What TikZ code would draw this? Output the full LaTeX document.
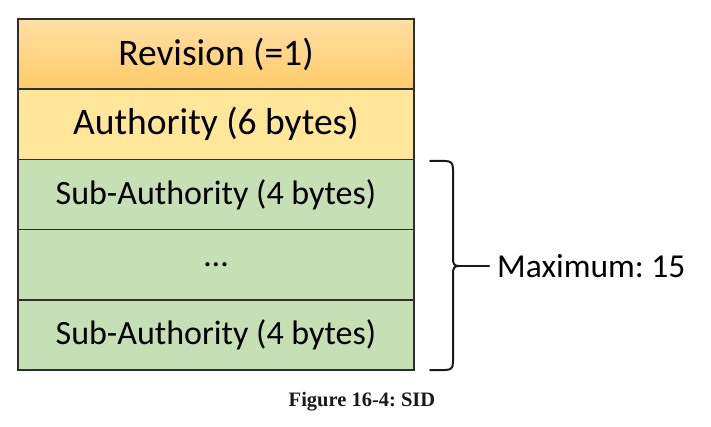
\documentclass[tikz,border=0pt]{standalone}
\usepackage{fontspec}
\setmainfont{Carlito}
\newfontfamily\capfont{Liberation Serif}
\frenchspacing
\definecolor{revtop}{HTML}{FFDFA3}
\definecolor{revbot}{HTML}{FFCB6A}
\definecolor{authc}{HTML}{FFE699}
\definecolor{subc}{HTML}{C5E0B4}
\definecolor{edge}{HTML}{2E2E2E}
\begin{document}
\begin{tikzpicture}[x=1pt,y=-1pt,
  row/.style={draw=edge, line width=1.6pt, minimum width=396pt, minimum height=70.2pt,
              inner sep=0pt, outer sep=0pt, anchor=north west, text=black},
  bigtxt/.style={font=\fontsize{37.5}{40}\selectfont},
  smalltxt/.style={font=\fontsize{34}{38}\selectfont},
  bracestyle/.style={draw=black!90, line width=2pt, line cap=round, line join=round},
]
\useasboundingbox (0,0) rectangle (711,427);
\node[row, bigtxt, top color=revtop, bottom color=revbot] (rev) at (18,19) {Revision (=1)};
\node[row, bigtxt, fill=authc] (auth) at (rev.south west) {Authority (6 bytes)};
\node[row, smalltxt, fill=subc] (sub1) at (auth.south west) {Sub-Authority (4 bytes)};
\node[row, smalltxt, fill=subc] (dots) at (sub1.south west) {\ldots};
\node[row, smalltxt, fill=subc] (sub2) at (dots.south west) {Sub-Authority (4 bytes)};
% brace
\coordinate (bt) at (430,161);
\coordinate (bb) at (430,370);
\coordinate (tip) at (459,266);
\draw[bracestyle] (bt) -- (445,161) .. controls (451,161) and (453,163) .. (453,169)
  -- (453,258) .. controls (453,264) and (454,266) .. (tip)
  .. controls (454,266) and (453,268) .. (453,274)
  -- (453,362) .. controls (453,368) and (451,370) .. (445,370) -- (bb);
\node[anchor=west, inner sep=0pt, inner xsep=8pt, font=\fontsize{33.5}{36}\selectfont] (max) at (489,266) {Maximum: 15};
\draw[bracestyle] (tip) -- (max.west);
\node[font=\capfont\bfseries\fontsize{20.5}{23}\selectfont, text=black!90] (cap) at (362,402) {Figure 16-4: SID};
\end{tikzpicture}
\end{document}
